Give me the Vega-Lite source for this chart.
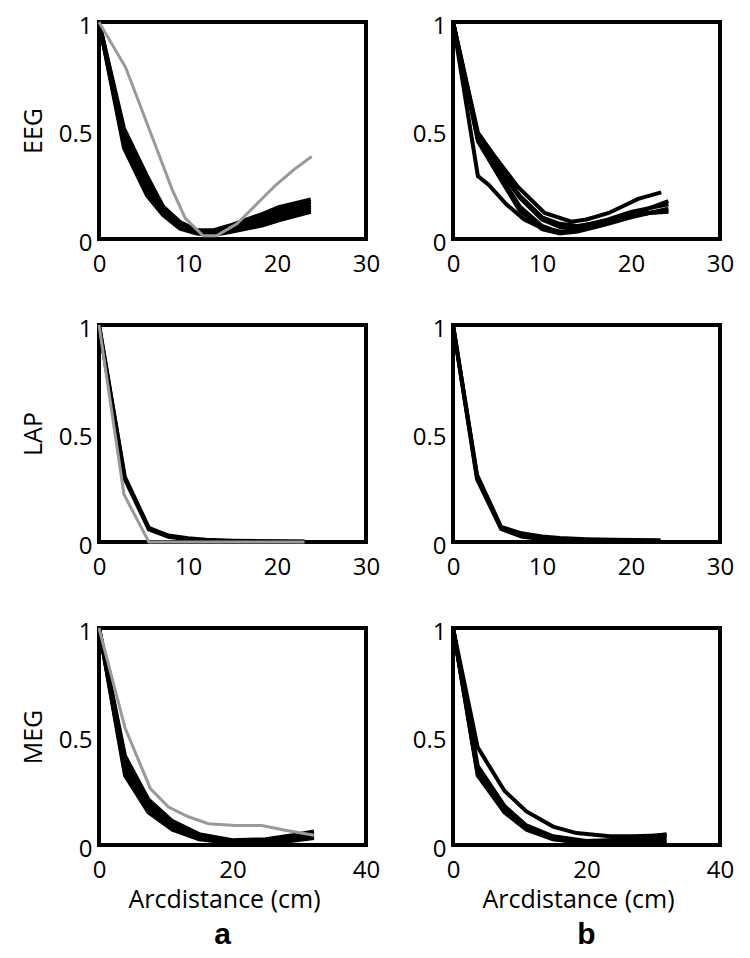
{
  "$schema": "https://vega.github.io/schema/vega-lite/v6.json",
  "background": "white",
  "padding": {"left": 19, "top": 12, "right": 5, "bottom": 5},
  "bounds": "flush",
  "columns": 2,
  "spacing": {"row": 86, "column": 87},
  "data": {"values": [
    {"panel":"EEG-a","line":"s1","kind":"subject","arcdistance":0,"value":1},
    {"panel":"EEG-a","line":"s1","kind":"subject","arcdistance":2.8,"value":0.51},
    {"panel":"EEG-a","line":"s1","kind":"subject","arcdistance":5.4,"value":0.29},
    {"panel":"EEG-a","line":"s1","kind":"subject","arcdistance":7.2,"value":0.15},
    {"panel":"EEG-a","line":"s1","kind":"subject","arcdistance":9.1,"value":0.078},
    {"panel":"EEG-a","line":"s1","kind":"subject","arcdistance":11,"value":0.04},
    {"panel":"EEG-a","line":"s1","kind":"subject","arcdistance":12.8,"value":0.04},
    {"panel":"EEG-a","line":"s1","kind":"subject","arcdistance":14.7,"value":0.062},
    {"panel":"EEG-a","line":"s1","kind":"subject","arcdistance":18.4,"value":0.116},
    {"panel":"EEG-a","line":"s1","kind":"subject","arcdistance":20.2,"value":0.147},
    {"panel":"EEG-a","line":"s1","kind":"subject","arcdistance":23.8,"value":0.182},
    {"panel":"EEG-a","line":"s2","kind":"subject","arcdistance":0,"value":1},
    {"panel":"EEG-a","line":"s2","kind":"subject","arcdistance":2.8,"value":0.49},
    {"panel":"EEG-a","line":"s2","kind":"subject","arcdistance":5.4,"value":0.27},
    {"panel":"EEG-a","line":"s2","kind":"subject","arcdistance":7.2,"value":0.142},
    {"panel":"EEG-a","line":"s2","kind":"subject","arcdistance":9.1,"value":0.072},
    {"panel":"EEG-a","line":"s2","kind":"subject","arcdistance":11,"value":0.037},
    {"panel":"EEG-a","line":"s2","kind":"subject","arcdistance":12.8,"value":0.036},
    {"panel":"EEG-a","line":"s2","kind":"subject","arcdistance":14.7,"value":0.056},
    {"panel":"EEG-a","line":"s2","kind":"subject","arcdistance":18.4,"value":0.105},
    {"panel":"EEG-a","line":"s2","kind":"subject","arcdistance":20.2,"value":0.135},
    {"panel":"EEG-a","line":"s2","kind":"subject","arcdistance":23.8,"value":0.17},
    {"panel":"EEG-a","line":"s3","kind":"subject","arcdistance":0,"value":1},
    {"panel":"EEG-a","line":"s3","kind":"subject","arcdistance":2.8,"value":0.475},
    {"panel":"EEG-a","line":"s3","kind":"subject","arcdistance":5.4,"value":0.255},
    {"panel":"EEG-a","line":"s3","kind":"subject","arcdistance":7.2,"value":0.134},
    {"panel":"EEG-a","line":"s3","kind":"subject","arcdistance":9.1,"value":0.066},
    {"panel":"EEG-a","line":"s3","kind":"subject","arcdistance":11,"value":0.034},
    {"panel":"EEG-a","line":"s3","kind":"subject","arcdistance":12.8,"value":0.031},
    {"panel":"EEG-a","line":"s3","kind":"subject","arcdistance":14.7,"value":0.05},
    {"panel":"EEG-a","line":"s3","kind":"subject","arcdistance":18.4,"value":0.094},
    {"panel":"EEG-a","line":"s3","kind":"subject","arcdistance":20.2,"value":0.122},
    {"panel":"EEG-a","line":"s3","kind":"subject","arcdistance":23.8,"value":0.158},
    {"panel":"EEG-a","line":"s4","kind":"subject","arcdistance":0,"value":1},
    {"panel":"EEG-a","line":"s4","kind":"subject","arcdistance":2.8,"value":0.455},
    {"panel":"EEG-a","line":"s4","kind":"subject","arcdistance":5.4,"value":0.235},
    {"panel":"EEG-a","line":"s4","kind":"subject","arcdistance":7.2,"value":0.126},
    {"panel":"EEG-a","line":"s4","kind":"subject","arcdistance":9.1,"value":0.06},
    {"panel":"EEG-a","line":"s4","kind":"subject","arcdistance":11,"value":0.031},
    {"panel":"EEG-a","line":"s4","kind":"subject","arcdistance":12.8,"value":0.027},
    {"panel":"EEG-a","line":"s4","kind":"subject","arcdistance":14.7,"value":0.044},
    {"panel":"EEG-a","line":"s4","kind":"subject","arcdistance":18.4,"value":0.084},
    {"panel":"EEG-a","line":"s4","kind":"subject","arcdistance":20.2,"value":0.11},
    {"panel":"EEG-a","line":"s4","kind":"subject","arcdistance":23.8,"value":0.148},
    {"panel":"EEG-a","line":"s5","kind":"subject","arcdistance":0,"value":1},
    {"panel":"EEG-a","line":"s5","kind":"subject","arcdistance":2.8,"value":0.44},
    {"panel":"EEG-a","line":"s5","kind":"subject","arcdistance":5.4,"value":0.218},
    {"panel":"EEG-a","line":"s5","kind":"subject","arcdistance":7.2,"value":0.118},
    {"panel":"EEG-a","line":"s5","kind":"subject","arcdistance":9.1,"value":0.054},
    {"panel":"EEG-a","line":"s5","kind":"subject","arcdistance":11,"value":0.028},
    {"panel":"EEG-a","line":"s5","kind":"subject","arcdistance":12.8,"value":0.022},
    {"panel":"EEG-a","line":"s5","kind":"subject","arcdistance":14.7,"value":0.038},
    {"panel":"EEG-a","line":"s5","kind":"subject","arcdistance":18.4,"value":0.074},
    {"panel":"EEG-a","line":"s5","kind":"subject","arcdistance":20.2,"value":0.098},
    {"panel":"EEG-a","line":"s5","kind":"subject","arcdistance":23.8,"value":0.136},
    {"panel":"EEG-a","line":"s6","kind":"subject","arcdistance":0,"value":1},
    {"panel":"EEG-a","line":"s6","kind":"subject","arcdistance":2.8,"value":0.42},
    {"panel":"EEG-a","line":"s6","kind":"subject","arcdistance":5.4,"value":0.2},
    {"panel":"EEG-a","line":"s6","kind":"subject","arcdistance":7.2,"value":0.11},
    {"panel":"EEG-a","line":"s6","kind":"subject","arcdistance":9.1,"value":0.048},
    {"panel":"EEG-a","line":"s6","kind":"subject","arcdistance":11,"value":0.025},
    {"panel":"EEG-a","line":"s6","kind":"subject","arcdistance":12.8,"value":0.018},
    {"panel":"EEG-a","line":"s6","kind":"subject","arcdistance":14.7,"value":0.032},
    {"panel":"EEG-a","line":"s6","kind":"subject","arcdistance":18.4,"value":0.063},
    {"panel":"EEG-a","line":"s6","kind":"subject","arcdistance":20.2,"value":0.086},
    {"panel":"EEG-a","line":"s6","kind":"subject","arcdistance":23.8,"value":0.125},
    {"panel":"EEG-a","line":"ref","kind":"reference","arcdistance":0,"value":1},
    {"panel":"EEG-a","line":"ref","kind":"reference","arcdistance":3,"value":0.79},
    {"panel":"EEG-a","line":"ref","kind":"reference","arcdistance":5.7,"value":0.5},
    {"panel":"EEG-a","line":"ref","kind":"reference","arcdistance":8.2,"value":0.23},
    {"panel":"EEG-a","line":"ref","kind":"reference","arcdistance":9.7,"value":0.095},
    {"panel":"EEG-a","line":"ref","kind":"reference","arcdistance":11.7,"value":0.015},
    {"panel":"EEG-a","line":"ref","kind":"reference","arcdistance":13.2,"value":0.015},
    {"panel":"EEG-a","line":"ref","kind":"reference","arcdistance":15.5,"value":0.07},
    {"panel":"EEG-a","line":"ref","kind":"reference","arcdistance":17.7,"value":0.16},
    {"panel":"EEG-a","line":"ref","kind":"reference","arcdistance":19.9,"value":0.25},
    {"panel":"EEG-a","line":"ref","kind":"reference","arcdistance":21.9,"value":0.32},
    {"panel":"EEG-a","line":"ref","kind":"reference","arcdistance":23.9,"value":0.38},

    {"panel":"EEG-b","line":"b1","kind":"subject","arcdistance":0,"value":1},
    {"panel":"EEG-b","line":"b1","kind":"subject","arcdistance":2.8,"value":0.29},
    {"panel":"EEG-b","line":"b1","kind":"subject","arcdistance":4,"value":0.25},
    {"panel":"EEG-b","line":"b1","kind":"subject","arcdistance":6,"value":0.16},
    {"panel":"EEG-b","line":"b1","kind":"subject","arcdistance":8,"value":0.09},
    {"panel":"EEG-b","line":"b1","kind":"subject","arcdistance":10,"value":0.05},
    {"panel":"EEG-b","line":"b1","kind":"subject","arcdistance":12,"value":0.035},
    {"panel":"EEG-b","line":"b1","kind":"subject","arcdistance":14,"value":0.04},
    {"panel":"EEG-b","line":"b1","kind":"subject","arcdistance":16,"value":0.06},
    {"panel":"EEG-b","line":"b1","kind":"subject","arcdistance":18,"value":0.085},
    {"panel":"EEG-b","line":"b1","kind":"subject","arcdistance":20,"value":0.105},
    {"panel":"EEG-b","line":"b1","kind":"subject","arcdistance":22,"value":0.12},
    {"panel":"EEG-b","line":"b1","kind":"subject","arcdistance":24.2,"value":0.125},
    {"panel":"EEG-b","line":"b2","kind":"subject","arcdistance":0,"value":1},
    {"panel":"EEG-b","line":"b2","kind":"subject","arcdistance":2.8,"value":0.49},
    {"panel":"EEG-b","line":"b2","kind":"subject","arcdistance":4.7,"value":0.38},
    {"panel":"EEG-b","line":"b2","kind":"subject","arcdistance":7.3,"value":0.24},
    {"panel":"EEG-b","line":"b2","kind":"subject","arcdistance":10.3,"value":0.12},
    {"panel":"EEG-b","line":"b2","kind":"subject","arcdistance":13.3,"value":0.08},
    {"panel":"EEG-b","line":"b2","kind":"subject","arcdistance":15,"value":0.09},
    {"panel":"EEG-b","line":"b2","kind":"subject","arcdistance":17.5,"value":0.12},
    {"panel":"EEG-b","line":"b2","kind":"subject","arcdistance":20.8,"value":0.185},
    {"panel":"EEG-b","line":"b2","kind":"subject","arcdistance":23.4,"value":0.215},
    {"panel":"EEG-b","line":"b3","kind":"subject","arcdistance":0,"value":1},
    {"panel":"EEG-b","line":"b3","kind":"subject","arcdistance":2.8,"value":0.47},
    {"panel":"EEG-b","line":"b3","kind":"subject","arcdistance":5,"value":0.33},
    {"panel":"EEG-b","line":"b3","kind":"subject","arcdistance":7.5,"value":0.19},
    {"panel":"EEG-b","line":"b3","kind":"subject","arcdistance":10,"value":0.09},
    {"panel":"EEG-b","line":"b3","kind":"subject","arcdistance":12,"value":0.055},
    {"panel":"EEG-b","line":"b3","kind":"subject","arcdistance":14,"value":0.055},
    {"panel":"EEG-b","line":"b3","kind":"subject","arcdistance":17,"value":0.085},
    {"panel":"EEG-b","line":"b3","kind":"subject","arcdistance":20,"value":0.125},
    {"panel":"EEG-b","line":"b3","kind":"subject","arcdistance":24.2,"value":0.16},
    {"panel":"EEG-b","line":"b4","kind":"subject","arcdistance":0,"value":1},
    {"panel":"EEG-b","line":"b4","kind":"subject","arcdistance":2.8,"value":0.46},
    {"panel":"EEG-b","line":"b4","kind":"subject","arcdistance":5,"value":0.31},
    {"panel":"EEG-b","line":"b4","kind":"subject","arcdistance":7.5,"value":0.15},
    {"panel":"EEG-b","line":"b4","kind":"subject","arcdistance":10,"value":0.06},
    {"panel":"EEG-b","line":"b4","kind":"subject","arcdistance":12,"value":0.03},
    {"panel":"EEG-b","line":"b4","kind":"subject","arcdistance":14,"value":0.04},
    {"panel":"EEG-b","line":"b4","kind":"subject","arcdistance":17,"value":0.07},
    {"panel":"EEG-b","line":"b4","kind":"subject","arcdistance":20,"value":0.11},
    {"panel":"EEG-b","line":"b4","kind":"subject","arcdistance":24.2,"value":0.175},
    {"panel":"EEG-b","line":"b5","kind":"subject","arcdistance":0,"value":1},
    {"panel":"EEG-b","line":"b5","kind":"subject","arcdistance":2.8,"value":0.45},
    {"panel":"EEG-b","line":"b5","kind":"subject","arcdistance":5,"value":0.3},
    {"panel":"EEG-b","line":"b5","kind":"subject","arcdistance":7.5,"value":0.13},
    {"panel":"EEG-b","line":"b5","kind":"subject","arcdistance":10,"value":0.045},
    {"panel":"EEG-b","line":"b5","kind":"subject","arcdistance":12,"value":0.025},
    {"panel":"EEG-b","line":"b5","kind":"subject","arcdistance":14,"value":0.035},
    {"panel":"EEG-b","line":"b5","kind":"subject","arcdistance":17,"value":0.065},
    {"panel":"EEG-b","line":"b5","kind":"subject","arcdistance":20,"value":0.1},
    {"panel":"EEG-b","line":"b5","kind":"subject","arcdistance":24.2,"value":0.14},
    {"panel":"EEG-b","line":"b6","kind":"subject","arcdistance":0,"value":1},
    {"panel":"EEG-b","line":"b6","kind":"subject","arcdistance":2.8,"value":0.48},
    {"panel":"EEG-b","line":"b6","kind":"subject","arcdistance":5,"value":0.34},
    {"panel":"EEG-b","line":"b6","kind":"subject","arcdistance":7.5,"value":0.2},
    {"panel":"EEG-b","line":"b6","kind":"subject","arcdistance":10,"value":0.1},
    {"panel":"EEG-b","line":"b6","kind":"subject","arcdistance":12,"value":0.07},
    {"panel":"EEG-b","line":"b6","kind":"subject","arcdistance":14,"value":0.06},
    {"panel":"EEG-b","line":"b6","kind":"subject","arcdistance":17,"value":0.08},
    {"panel":"EEG-b","line":"b6","kind":"subject","arcdistance":20,"value":0.11},
    {"panel":"EEG-b","line":"b6","kind":"subject","arcdistance":24.2,"value":0.13},

    {"panel":"LAP-a","line":"s1","kind":"subject","arcdistance":0,"value":1},
    {"panel":"LAP-a","line":"s1","kind":"subject","arcdistance":2.9,"value":0.3},
    {"panel":"LAP-a","line":"s1","kind":"subject","arcdistance":5.6,"value":0.065},
    {"panel":"LAP-a","line":"s1","kind":"subject","arcdistance":7.8,"value":0.03},
    {"panel":"LAP-a","line":"s1","kind":"subject","arcdistance":10,"value":0.017},
    {"panel":"LAP-a","line":"s1","kind":"subject","arcdistance":12,"value":0.01},
    {"panel":"LAP-a","line":"s1","kind":"subject","arcdistance":15,"value":0.006},
    {"panel":"LAP-a","line":"s1","kind":"subject","arcdistance":18,"value":0.004},
    {"panel":"LAP-a","line":"s1","kind":"subject","arcdistance":23.1,"value":0.002},
    {"panel":"LAP-a","line":"s2","kind":"subject","arcdistance":0,"value":1},
    {"panel":"LAP-a","line":"s2","kind":"subject","arcdistance":2.9,"value":0.29},
    {"panel":"LAP-a","line":"s2","kind":"subject","arcdistance":5.6,"value":0.058},
    {"panel":"LAP-a","line":"s2","kind":"subject","arcdistance":7.8,"value":0.024},
    {"panel":"LAP-a","line":"s2","kind":"subject","arcdistance":10,"value":0.012},
    {"panel":"LAP-a","line":"s2","kind":"subject","arcdistance":12,"value":0.007},
    {"panel":"LAP-a","line":"s2","kind":"subject","arcdistance":15,"value":0.004},
    {"panel":"LAP-a","line":"s2","kind":"subject","arcdistance":18,"value":0.003},
    {"panel":"LAP-a","line":"s2","kind":"subject","arcdistance":23.1,"value":0.001},
    {"panel":"LAP-a","line":"ref","kind":"reference","arcdistance":0,"value":1},
    {"panel":"LAP-a","line":"ref","kind":"reference","arcdistance":2.8,"value":0.22},
    {"panel":"LAP-a","line":"ref","kind":"reference","arcdistance":5.6,"value":0},
    {"panel":"LAP-a","line":"ref","kind":"reference","arcdistance":8,"value":0},
    {"panel":"LAP-a","line":"ref","kind":"reference","arcdistance":23.1,"value":0},

    {"panel":"LAP-b","line":"s1","kind":"subject","arcdistance":0,"value":1},
    {"panel":"LAP-b","line":"s1","kind":"subject","arcdistance":2.7,"value":0.31},
    {"panel":"LAP-b","line":"s1","kind":"subject","arcdistance":5.4,"value":0.07},
    {"panel":"LAP-b","line":"s1","kind":"subject","arcdistance":7.7,"value":0.04},
    {"panel":"LAP-b","line":"s1","kind":"subject","arcdistance":10,"value":0.025},
    {"panel":"LAP-b","line":"s1","kind":"subject","arcdistance":12,"value":0.018},
    {"panel":"LAP-b","line":"s1","kind":"subject","arcdistance":15,"value":0.013},
    {"panel":"LAP-b","line":"s1","kind":"subject","arcdistance":18,"value":0.01},
    {"panel":"LAP-b","line":"s1","kind":"subject","arcdistance":23.3,"value":0.008},
    {"panel":"LAP-b","line":"s2","kind":"subject","arcdistance":0,"value":1},
    {"panel":"LAP-b","line":"s2","kind":"subject","arcdistance":2.7,"value":0.3},
    {"panel":"LAP-b","line":"s2","kind":"subject","arcdistance":5.4,"value":0.065},
    {"panel":"LAP-b","line":"s2","kind":"subject","arcdistance":7.7,"value":0.032},
    {"panel":"LAP-b","line":"s2","kind":"subject","arcdistance":10,"value":0.019},
    {"panel":"LAP-b","line":"s2","kind":"subject","arcdistance":12,"value":0.013},
    {"panel":"LAP-b","line":"s2","kind":"subject","arcdistance":15,"value":0.009},
    {"panel":"LAP-b","line":"s2","kind":"subject","arcdistance":18,"value":0.006},
    {"panel":"LAP-b","line":"s2","kind":"subject","arcdistance":23.3,"value":0.005},
    {"panel":"LAP-b","line":"s3","kind":"subject","arcdistance":0,"value":1},
    {"panel":"LAP-b","line":"s3","kind":"subject","arcdistance":2.7,"value":0.29},
    {"panel":"LAP-b","line":"s3","kind":"subject","arcdistance":5.4,"value":0.06},
    {"panel":"LAP-b","line":"s3","kind":"subject","arcdistance":7.7,"value":0.025},
    {"panel":"LAP-b","line":"s3","kind":"subject","arcdistance":10,"value":0.013},
    {"panel":"LAP-b","line":"s3","kind":"subject","arcdistance":12,"value":0.008},
    {"panel":"LAP-b","line":"s3","kind":"subject","arcdistance":15,"value":0.005},
    {"panel":"LAP-b","line":"s3","kind":"subject","arcdistance":18,"value":0.003},
    {"panel":"LAP-b","line":"s3","kind":"subject","arcdistance":23.3,"value":0.002},

    {"panel":"MEG-a","line":"s1","kind":"subject","arcdistance":0,"value":1},
    {"panel":"MEG-a","line":"s1","kind":"subject","arcdistance":3.9,"value":0.41},
    {"panel":"MEG-a","line":"s1","kind":"subject","arcdistance":7.4,"value":0.21},
    {"panel":"MEG-a","line":"s1","kind":"subject","arcdistance":11,"value":0.11},
    {"panel":"MEG-a","line":"s1","kind":"subject","arcdistance":15,"value":0.05},
    {"panel":"MEG-a","line":"s1","kind":"subject","arcdistance":20,"value":0.022},
    {"panel":"MEG-a","line":"s1","kind":"subject","arcdistance":25,"value":0.027},
    {"panel":"MEG-a","line":"s1","kind":"subject","arcdistance":29,"value":0.045},
    {"panel":"MEG-a","line":"s1","kind":"subject","arcdistance":32.2,"value":0.062},
    {"panel":"MEG-a","line":"s2","kind":"subject","arcdistance":0,"value":1},
    {"panel":"MEG-a","line":"s2","kind":"subject","arcdistance":3.9,"value":0.39},
    {"panel":"MEG-a","line":"s2","kind":"subject","arcdistance":7.4,"value":0.198},
    {"panel":"MEG-a","line":"s2","kind":"subject","arcdistance":11,"value":0.102},
    {"panel":"MEG-a","line":"s2","kind":"subject","arcdistance":15,"value":0.045},
    {"panel":"MEG-a","line":"s2","kind":"subject","arcdistance":20,"value":0.019},
    {"panel":"MEG-a","line":"s2","kind":"subject","arcdistance":25,"value":0.024},
    {"panel":"MEG-a","line":"s2","kind":"subject","arcdistance":29,"value":0.04},
    {"panel":"MEG-a","line":"s2","kind":"subject","arcdistance":32.2,"value":0.056},
    {"panel":"MEG-a","line":"s3","kind":"subject","arcdistance":0,"value":1},
    {"panel":"MEG-a","line":"s3","kind":"subject","arcdistance":3.9,"value":0.37},
    {"panel":"MEG-a","line":"s3","kind":"subject","arcdistance":7.4,"value":0.186},
    {"panel":"MEG-a","line":"s3","kind":"subject","arcdistance":11,"value":0.094},
    {"panel":"MEG-a","line":"s3","kind":"subject","arcdistance":15,"value":0.04},
    {"panel":"MEG-a","line":"s3","kind":"subject","arcdistance":20,"value":0.016},
    {"panel":"MEG-a","line":"s3","kind":"subject","arcdistance":25,"value":0.02},
    {"panel":"MEG-a","line":"s3","kind":"subject","arcdistance":29,"value":0.035},
    {"panel":"MEG-a","line":"s3","kind":"subject","arcdistance":32.2,"value":0.05},
    {"panel":"MEG-a","line":"s4","kind":"subject","arcdistance":0,"value":1},
    {"panel":"MEG-a","line":"s4","kind":"subject","arcdistance":3.9,"value":0.355},
    {"panel":"MEG-a","line":"s4","kind":"subject","arcdistance":7.4,"value":0.174},
    {"panel":"MEG-a","line":"s4","kind":"subject","arcdistance":11,"value":0.086},
    {"panel":"MEG-a","line":"s4","kind":"subject","arcdistance":15,"value":0.035},
    {"panel":"MEG-a","line":"s4","kind":"subject","arcdistance":20,"value":0.013},
    {"panel":"MEG-a","line":"s4","kind":"subject","arcdistance":25,"value":0.017},
    {"panel":"MEG-a","line":"s4","kind":"subject","arcdistance":29,"value":0.03},
    {"panel":"MEG-a","line":"s4","kind":"subject","arcdistance":32.2,"value":0.044},
    {"panel":"MEG-a","line":"s5","kind":"subject","arcdistance":0,"value":1},
    {"panel":"MEG-a","line":"s5","kind":"subject","arcdistance":3.9,"value":0.335},
    {"panel":"MEG-a","line":"s5","kind":"subject","arcdistance":7.4,"value":0.162},
    {"panel":"MEG-a","line":"s5","kind":"subject","arcdistance":11,"value":0.078},
    {"panel":"MEG-a","line":"s5","kind":"subject","arcdistance":15,"value":0.031},
    {"panel":"MEG-a","line":"s5","kind":"subject","arcdistance":20,"value":0.011},
    {"panel":"MEG-a","line":"s5","kind":"subject","arcdistance":25,"value":0.013},
    {"panel":"MEG-a","line":"s5","kind":"subject","arcdistance":29,"value":0.025},
    {"panel":"MEG-a","line":"s5","kind":"subject","arcdistance":32.2,"value":0.038},
    {"panel":"MEG-a","line":"s6","kind":"subject","arcdistance":0,"value":1},
    {"panel":"MEG-a","line":"s6","kind":"subject","arcdistance":3.9,"value":0.32},
    {"panel":"MEG-a","line":"s6","kind":"subject","arcdistance":7.4,"value":0.15},
    {"panel":"MEG-a","line":"s6","kind":"subject","arcdistance":11,"value":0.07},
    {"panel":"MEG-a","line":"s6","kind":"subject","arcdistance":15,"value":0.026},
    {"panel":"MEG-a","line":"s6","kind":"subject","arcdistance":20,"value":0.008},
    {"panel":"MEG-a","line":"s6","kind":"subject","arcdistance":25,"value":0.01},
    {"panel":"MEG-a","line":"s6","kind":"subject","arcdistance":29,"value":0.02},
    {"panel":"MEG-a","line":"s6","kind":"subject","arcdistance":32.2,"value":0.032},
    {"panel":"MEG-a","line":"ref","kind":"reference","arcdistance":0,"value":1},
    {"panel":"MEG-a","line":"ref","kind":"reference","arcdistance":3.9,"value":0.54},
    {"panel":"MEG-a","line":"ref","kind":"reference","arcdistance":7.7,"value":0.26},
    {"panel":"MEG-a","line":"ref","kind":"reference","arcdistance":10.4,"value":0.175},
    {"panel":"MEG-a","line":"ref","kind":"reference","arcdistance":13.4,"value":0.13},
    {"panel":"MEG-a","line":"ref","kind":"reference","arcdistance":16.4,"value":0.098},
    {"panel":"MEG-a","line":"ref","kind":"reference","arcdistance":20.4,"value":0.09},
    {"panel":"MEG-a","line":"ref","kind":"reference","arcdistance":24.4,"value":0.09},
    {"panel":"MEG-a","line":"ref","kind":"reference","arcdistance":27.9,"value":0.068},
    {"panel":"MEG-a","line":"ref","kind":"reference","arcdistance":32.2,"value":0.045},

    {"panel":"MEG-b","line":"s1","kind":"subject","arcdistance":0,"value":1},
    {"panel":"MEG-b","line":"s1","kind":"subject","arcdistance":3.7,"value":0.45},
    {"panel":"MEG-b","line":"s1","kind":"subject","arcdistance":7.7,"value":0.25},
    {"panel":"MEG-b","line":"s1","kind":"subject","arcdistance":11,"value":0.155},
    {"panel":"MEG-b","line":"s1","kind":"subject","arcdistance":15,"value":0.085},
    {"panel":"MEG-b","line":"s1","kind":"subject","arcdistance":18.5,"value":0.055},
    {"panel":"MEG-b","line":"s1","kind":"subject","arcdistance":23.5,"value":0.04},
    {"panel":"MEG-b","line":"s1","kind":"subject","arcdistance":27,"value":0.04},
    {"panel":"MEG-b","line":"s1","kind":"subject","arcdistance":32,"value":0.045},
    {"panel":"MEG-b","line":"s2","kind":"subject","arcdistance":0,"value":1},
    {"panel":"MEG-b","line":"s2","kind":"subject","arcdistance":3.7,"value":0.365},
    {"panel":"MEG-b","line":"s2","kind":"subject","arcdistance":7.7,"value":0.18},
    {"panel":"MEG-b","line":"s2","kind":"subject","arcdistance":11,"value":0.09},
    {"panel":"MEG-b","line":"s2","kind":"subject","arcdistance":15,"value":0.04},
    {"panel":"MEG-b","line":"s2","kind":"subject","arcdistance":20,"value":0.018},
    {"panel":"MEG-b","line":"s2","kind":"subject","arcdistance":26,"value":0.025},
    {"panel":"MEG-b","line":"s2","kind":"subject","arcdistance":32,"value":0.05},
    {"panel":"MEG-b","line":"s3","kind":"subject","arcdistance":0,"value":1},
    {"panel":"MEG-b","line":"s3","kind":"subject","arcdistance":3.7,"value":0.34},
    {"panel":"MEG-b","line":"s3","kind":"subject","arcdistance":7.7,"value":0.165},
    {"panel":"MEG-b","line":"s3","kind":"subject","arcdistance":11,"value":0.08},
    {"panel":"MEG-b","line":"s3","kind":"subject","arcdistance":15,"value":0.032},
    {"panel":"MEG-b","line":"s3","kind":"subject","arcdistance":20,"value":0.012},
    {"panel":"MEG-b","line":"s3","kind":"subject","arcdistance":26,"value":0.018},
    {"panel":"MEG-b","line":"s3","kind":"subject","arcdistance":32,"value":0.035},
    {"panel":"MEG-b","line":"s4","kind":"subject","arcdistance":0,"value":1},
    {"panel":"MEG-b","line":"s4","kind":"subject","arcdistance":3.7,"value":0.32},
    {"panel":"MEG-b","line":"s4","kind":"subject","arcdistance":7.7,"value":0.15},
    {"panel":"MEG-b","line":"s4","kind":"subject","arcdistance":11,"value":0.07},
    {"panel":"MEG-b","line":"s4","kind":"subject","arcdistance":15,"value":0.026},
    {"panel":"MEG-b","line":"s4","kind":"subject","arcdistance":20,"value":0.008},
    {"panel":"MEG-b","line":"s4","kind":"subject","arcdistance":26,"value":0.012},
    {"panel":"MEG-b","line":"s4","kind":"subject","arcdistance":32,"value":0.02},
    {"panel":"MEG-b","line":"s5","kind":"subject","arcdistance":0,"value":1},
    {"panel":"MEG-b","line":"s5","kind":"subject","arcdistance":3.7,"value":0.33},
    {"panel":"MEG-b","line":"s5","kind":"subject","arcdistance":7.7,"value":0.155},
    {"panel":"MEG-b","line":"s5","kind":"subject","arcdistance":11,"value":0.075},
    {"panel":"MEG-b","line":"s5","kind":"subject","arcdistance":15,"value":0.028},
    {"panel":"MEG-b","line":"s5","kind":"subject","arcdistance":20,"value":0.01},
    {"panel":"MEG-b","line":"s5","kind":"subject","arcdistance":26,"value":0.01},
    {"panel":"MEG-b","line":"s5","kind":"subject","arcdistance":32,"value":0.012}
  ]},
  "concat": [
    {
      "width": 267, "height": 217,
      "transform": [{"filter": "datum.panel === 'EEG-a'"}],
      "encoding": {
        "x": {"field": "arcdistance", "type": "quantitative", "scale": {"domain": [0, 30], "nice": false, "zero": false}, "axis": {"values": [0, 10, 20, 30], "format": "d", "title": null}},
        "y": {"field": "value", "type": "quantitative", "scale": {"domain": [0, 1], "nice": false}, "axis": {"values": [0, 0.5, 1], "format": "~r", "title": "EEG"}},
        "detail": {"field": "line"}
      },
      "layer": [
        {"transform": [{"filter": "datum.kind === 'subject'"}], "mark": {"type": "line", "color": "black", "strokeWidth": 4}},
        {"transform": [{"filter": "datum.kind === 'reference'"}], "mark": {"type": "line", "color": "#999999", "strokeWidth": 3}}
      ]
    },
    {
      "width": 267, "height": 217,
      "transform": [{"filter": "datum.panel === 'EEG-b'"}],
      "mark": {"type": "line", "color": "black", "strokeWidth": 4},
      "encoding": {
        "x": {"field": "arcdistance", "type": "quantitative", "scale": {"domain": [0, 30], "nice": false, "zero": false}, "axis": {"values": [0, 10, 20, 30], "format": "d", "title": null}},
        "y": {"field": "value", "type": "quantitative", "scale": {"domain": [0, 1], "nice": false}, "axis": {"values": [0, 0.5, 1], "format": "~r", "title": null}},
        "detail": {"field": "line"}
      }
    },
    {
      "width": 267, "height": 217,
      "transform": [{"filter": "datum.panel === 'LAP-a'"}],
      "encoding": {
        "x": {"field": "arcdistance", "type": "quantitative", "scale": {"domain": [0, 30], "nice": false, "zero": false}, "axis": {"values": [0, 10, 20, 30], "format": "d", "title": null}},
        "y": {"field": "value", "type": "quantitative", "scale": {"domain": [0, 1], "nice": false}, "axis": {"values": [0, 0.5, 1], "format": "~r", "title": "LAP"}},
        "detail": {"field": "line"}
      },
      "layer": [
        {"transform": [{"filter": "datum.kind === 'subject'"}], "mark": {"type": "line", "color": "black", "strokeWidth": 4}},
        {"transform": [{"filter": "datum.kind === 'reference'"}], "mark": {"type": "line", "color": "#999999", "strokeWidth": 3}}
      ]
    },
    {
      "width": 267, "height": 217,
      "transform": [{"filter": "datum.panel === 'LAP-b'"}],
      "mark": {"type": "line", "color": "black", "strokeWidth": 4},
      "encoding": {
        "x": {"field": "arcdistance", "type": "quantitative", "scale": {"domain": [0, 30], "nice": false, "zero": false}, "axis": {"values": [0, 10, 20, 30], "format": "d", "title": null}},
        "y": {"field": "value", "type": "quantitative", "scale": {"domain": [0, 1], "nice": false}, "axis": {"values": [0, 0.5, 1], "format": "~r", "title": null}},
        "detail": {"field": "line"}
      }
    },
    {
      "width": 267, "height": 217,
      "title": {"text": "a", "dx": -10},
      "transform": [{"filter": "datum.panel === 'MEG-a'"}],
      "encoding": {
        "x": {"field": "arcdistance", "type": "quantitative", "scale": {"domain": [0, 40], "nice": false, "zero": false}, "axis": {"values": [0, 20, 40], "format": "d", "title": "Arcdistance (cm)", "titleX": 125}},
        "y": {"field": "value", "type": "quantitative", "scale": {"domain": [0, 1], "nice": false}, "axis": {"values": [0, 0.5, 1], "format": "~r", "title": "MEG"}},
        "detail": {"field": "line"}
      },
      "layer": [
        {"transform": [{"filter": "datum.kind === 'subject'"}], "mark": {"type": "line", "color": "black", "strokeWidth": 4}},
        {"transform": [{"filter": "datum.kind === 'reference'"}], "mark": {"type": "line", "color": "#999999", "strokeWidth": 3}}
      ]
    },
    {
      "width": 267, "height": 217,
      "title": {"text": "b"},
      "transform": [{"filter": "datum.panel === 'MEG-b'"}],
      "mark": {"type": "line", "color": "black", "strokeWidth": 4},
      "encoding": {
        "x": {"field": "arcdistance", "type": "quantitative", "scale": {"domain": [0, 40], "nice": false, "zero": false}, "axis": {"values": [0, 20, 40], "format": "d", "title": "Arcdistance (cm)", "titleX": 125}},
        "y": {"field": "value", "type": "quantitative", "scale": {"domain": [0, 1], "nice": false}, "axis": {"values": [0, 0.5, 1], "format": "~r", "title": null}},
        "detail": {"field": "line"}
      }
    }
  ],
  "config": {
    "view": {"stroke": "black", "strokeWidth": 4},
    "axis": {
      "domain": false, "ticks": false, "tickSize": 0, "grid": false,
      "labelFont": "Open Sans", "labelFontSize": 24, "labelColor": "black",
      "titleFont": "Open Sans", "titleFontSize": 25, "titleFontWeight": "normal", "titleColor": "black",
      "labelFlush": false, "labelOverlap": false, "labelBound": false
    },
    "axisX": {"labelPadding": 13, "titlePadding": 5},
    "axisY": {"labelPadding": 7, "labelOffset": 4, "titlePadding": 12},
    "title": {"font": "Liberation Sans", "fontSize": 30, "fontWeight": "bold", "color": "black", "orient": "bottom", "frame": "group", "offset": 8}
  }
}
